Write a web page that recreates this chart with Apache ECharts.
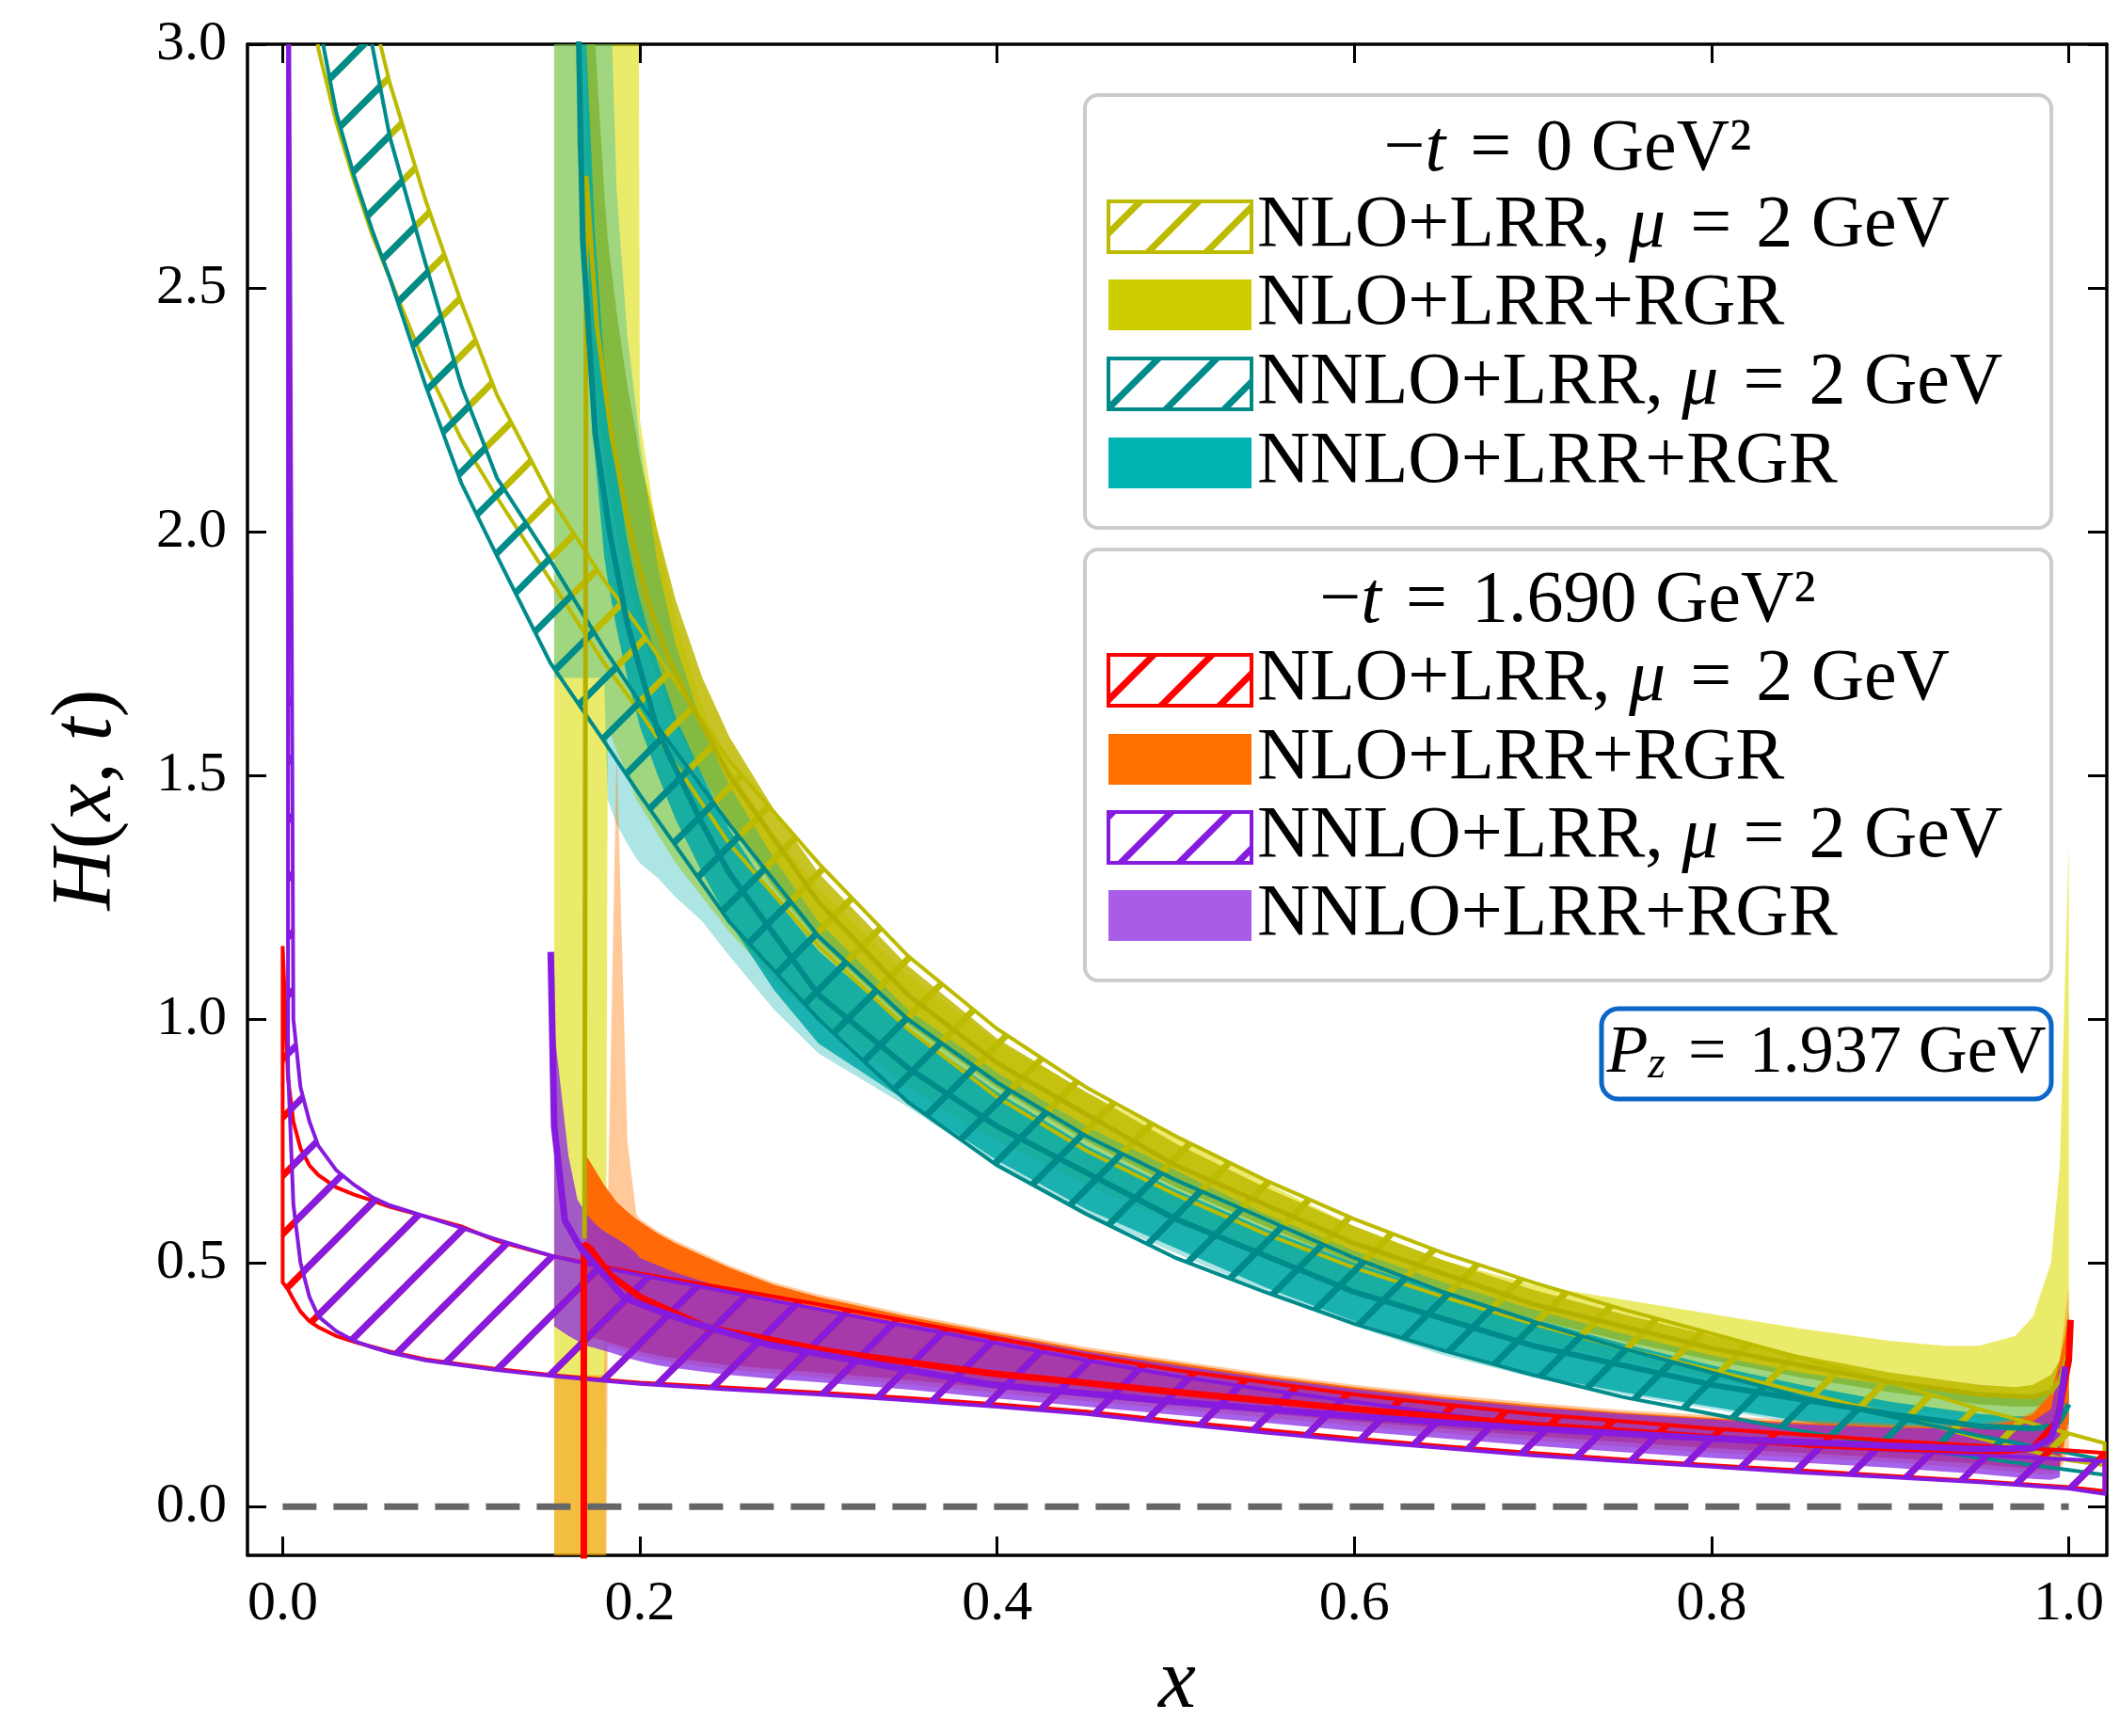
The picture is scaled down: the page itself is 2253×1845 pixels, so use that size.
<!DOCTYPE html>
<html>
<head>
<meta charset="utf-8">
<title>H(x,t)</title>
<script src="https://cdn.jsdelivr.net/npm/echarts@6/dist/echarts.min.js"></script>
<style>
html,body{margin:0;padding:0;background:#fff;}
#main{width:2253px;height:1845px;}
</style>
</head>
<body>
<div id="main"></div>
<script>
var FONT = 'Liberation Serif';

// tick values
var xTicks = [0, 0.2, 0.4, 0.6, 0.8, 1.0];
var yTicks = [0, 0.5, 1.0, 1.5, 2.0, 2.5, 3.0];

// x grid of the fixed-scale (hatched) bands
var xHat = [0.0, 0.003, 0.006, 0.01, 0.015, 0.02, 0.03, 0.04, 0.05, 0.06, 0.08, 0.10, 0.12, 0.15, 0.18, 0.20,
  0.25, 0.30, 0.35, 0.40, 0.45, 0.50, 0.55, 0.60, 0.65, 0.70, 0.75, 0.80, 0.85, 0.90, 0.95, 1.00, 1.02];

// -t = 0, NLO+LRR mu=2 GeV
var nloLrrT0Lo = [null, null, null, null, 3.2, 2.99, 2.84, 2.72, 2.61, 2.52, 2.34, 2.19, 2.07, 1.9, 1.73, 1.63,
  1.36, 1.15, 0.98, 0.84, 0.73, 0.64, 0.56, 0.49, 0.43, 0.375, 0.325, 0.28, 0.235, 0.19, 0.14, 0.095, 0.085];
var nloLrrT0Hi = [null, null, null, null, 4.3, 4.0, 3.6, 3.3, 3.07, 2.92, 2.68, 2.47, 2.28, 2.07, 1.9, 1.8,
  1.53, 1.32, 1.13, 0.98, 0.86, 0.76, 0.67, 0.59, 0.52, 0.46, 0.405, 0.355, 0.305, 0.255, 0.2, 0.15, 0.13];
// -t = 0, NNLO+LRR mu=2 GeV
var nnloLrrT0Lo = [null, null, null, null, 3.4, 3.05, 2.86, 2.73, 2.62, 2.52, 2.30, 2.1, 1.95, 1.73, 1.57, 1.46,
  1.2, 1.0, 0.83, 0.70, 0.60, 0.51, 0.44, 0.375, 0.32, 0.27, 0.225, 0.19, 0.155, 0.125, 0.1, 0.075, 0.065];
var nnloLrrT0Hi = [null, null, null, null, 4.0, 3.7, 3.4, 3.17, 3.0, 2.81, 2.55, 2.3, 2.11, 1.94, 1.76, 1.65,
  1.4, 1.17, 1.0, 0.87, 0.76, 0.67, 0.59, 0.51, 0.44, 0.38, 0.325, 0.275, 0.225, 0.185, 0.145, 0.11, 0.095];
// -t = 1.690, NLO+LRR mu=2 GeV
var nloLrrT169Lo = [0.46, 0.445, 0.425, 0.40, 0.38, 0.368, 0.35, 0.338, 0.328, 0.318, 0.302, 0.292, 0.282, 0.27, 0.26, 0.254,
  0.244, 0.234, 0.223, 0.21, 0.195, 0.175, 0.157, 0.14, 0.124, 0.11, 0.097, 0.085, 0.074, 0.063, 0.052, 0.04, 0.032];
var nloLrrT169Hi = [1.15, 0.88, 0.79, 0.735, 0.70, 0.68, 0.655, 0.64, 0.628, 0.615, 0.595, 0.575, 0.545, 0.515, 0.492, 0.478,
  0.447, 0.415, 0.38, 0.345, 0.31, 0.28, 0.255, 0.23, 0.21, 0.19, 0.175, 0.16, 0.148, 0.135, 0.125, 0.115, 0.11];
// -t = 1.690, NNLO+LRR mu=2 GeV
var nnloLrrT169Lo = [null, 0.9, 0.62, 0.5, 0.43, 0.39, 0.36, 0.34, 0.327, 0.316, 0.30, 0.29, 0.28, 0.268, 0.258, 0.252,
  0.24, 0.23, 0.218, 0.205, 0.19, 0.17, 0.152, 0.135, 0.12, 0.105, 0.093, 0.082, 0.07, 0.06, 0.05, 0.037, 0.026];
var nnloLrrT169Hi = [null, 3.6, 1.0, 0.86, 0.79, 0.74, 0.69, 0.66, 0.635, 0.618, 0.595, 0.572, 0.548, 0.515, 0.49, 0.475,
  0.44, 0.405, 0.37, 0.335, 0.3, 0.268, 0.24, 0.215, 0.19, 0.165, 0.15, 0.138, 0.126, 0.116, 0.106, 0.097, 0.093];

// x grid of the RGR bands
var xRgr = [0.152, 0.16, 0.165, 0.17, 0.175, 0.18, 0.182, 0.187, 0.193, 0.198, 0.2, 0.21, 0.22, 0.235, 0.25, 0.275, 0.3,
  0.35, 0.4, 0.45, 0.5, 0.55, 0.6, 0.65, 0.7, 0.75, 0.8, 0.85, 0.9, 0.93, 0.95, 0.97, 0.98, 0.99, 0.995, 1.0];

// -t = 0, NLO+LRR+RGR (outer / inner)
var nloRgrT0OutLo = [-1, -1, -1, -1, -1, -1, 1.6, 1.55, 1.5, 1.45, 1.44, 1.38, 1.32, 1.25, 1.18, 1.08, 1.0,
  0.86, 0.75, 0.66, 0.58, 0.51, 0.445, 0.39, 0.34, 0.3, 0.262, 0.23, 0.2, 0.19, 0.18, 0.175, 0.175, 0.18, 0.2, 0.3];
var nloRgrT0OutHi = [5, 5, 5, 5, 5, 5, 5, 5, 5, 5, 2.23, 1.99, 1.82, 1.64, 1.52, 1.38, 1.27,
  1.09, 0.955, 0.85, 0.76, 0.665, 0.575, 0.505, 0.455, 0.425, 0.395, 0.365, 0.34, 0.33, 0.33, 0.35, 0.39, 0.5, 0.7, 1.36];
var nloRgrT0InLo = [null, null, null, 2.5, 2.3, 2.15, 2.1, 2.0, 1.9, 1.83, 1.8, 1.7, 1.6, 1.5, 1.4, 1.27, 1.16,
  0.99, 0.86, 0.75, 0.655, 0.575, 0.5, 0.44, 0.385, 0.34, 0.3, 0.265, 0.235, 0.22, 0.21, 0.205, 0.205, 0.21, 0.22, 0.25];
var nloRgrT0InHi = [null, null, null, 3.5, 3.0, 2.7, 2.6, 2.45, 2.3, 2.2, 2.15, 2.0, 1.86, 1.7, 1.58, 1.43, 1.3,
  1.11, 0.96, 0.85, 0.745, 0.655, 0.575, 0.505, 0.445, 0.395, 0.35, 0.31, 0.275, 0.26, 0.25, 0.245, 0.25, 0.27, 0.3, 0.4];
// -t = 0, NNLO+LRR+RGR (outer / inner)
var nnloRgrT0OutLo = [1.7, 1.7, 1.7, 1.7, 1.7, 1.7, 1.45, 1.4, 1.36, 1.33, 1.32, 1.29, 1.25, 1.2, 1.13, 1.02, 0.93,
  0.82, 0.7, 0.6, 0.52, 0.44, 0.37, 0.31, 0.265, 0.23, 0.2, 0.17, 0.145, 0.135, 0.13, 0.125, 0.125, 0.13, 0.14, 0.16];
var nnloRgrT0OutHi = [5, 5, 5, 5, 5, 5, 3.3, 2.7, 2.4, 2.25, 2.18, 1.93, 1.77, 1.6, 1.48, 1.33, 1.2,
  1.02, 0.89, 0.78, 0.69, 0.6, 0.525, 0.46, 0.405, 0.355, 0.31, 0.275, 0.25, 0.24, 0.235, 0.23, 0.23, 0.24, 0.26, 0.33];
var nnloRgrT0InLo = [null, null, 2.8, 2.4, 2.15, 1.95, 1.9, 1.8, 1.7, 1.63, 1.6, 1.5, 1.41, 1.3, 1.2, 1.06, 0.95,
  0.83, 0.71, 0.61, 0.53, 0.45, 0.38, 0.32, 0.27, 0.235, 0.205, 0.175, 0.15, 0.14, 0.135, 0.13, 0.13, 0.135, 0.145, 0.17];
var nnloRgrT0InHi = [null, null, 3.6, 3.0, 2.6, 2.35, 2.28, 2.12, 1.98, 1.89, 1.86, 1.73, 1.62, 1.5, 1.39, 1.25, 1.14,
  0.98, 0.85, 0.74, 0.65, 0.57, 0.5, 0.44, 0.385, 0.335, 0.29, 0.25, 0.215, 0.2, 0.19, 0.185, 0.185, 0.19, 0.2, 0.24];
// -t = 1.690, NLO+LRR+RGR (outer / inner)
var nloRgrT169OutLo = [-1, -1, -1, -1, -1, -1, 0.33, 0.325, 0.318, 0.312, 0.31, 0.302, 0.295, 0.288, 0.281, 0.273, 0.266,
  0.251, 0.233, 0.216, 0.199, 0.183, 0.166, 0.151, 0.136, 0.123, 0.111, 0.101, 0.091, 0.083, 0.078, 0.071, 0.068, 0.066, 0.07, 0.12];
var nloRgrT169OutHi = [0.27, 0.27, 0.27, 0.27, 0.27, 0.27, 0.6, 1.55, 0.75, 0.6, 0.59, 0.565, 0.545, 0.52, 0.495, 0.46, 0.435,
  0.395, 0.36, 0.327, 0.3, 0.273, 0.25, 0.23, 0.213, 0.198, 0.187, 0.177, 0.17, 0.168, 0.17, 0.18, 0.195, 0.235, 0.305, 0.45];
var nloRgrT169InLo = [null, null, null, 0.35, 0.345, 0.34, 0.338, 0.332, 0.325, 0.32, 0.318, 0.31, 0.304, 0.297, 0.29, 0.282, 0.275,
  0.26, 0.242, 0.225, 0.208, 0.192, 0.175, 0.16, 0.145, 0.132, 0.12, 0.11, 0.1, 0.092, 0.087, 0.08, 0.077, 0.075, 0.08, 0.18];
var nloRgrT169InHi = [null, null, null, 0.72, 0.69, 0.66, 0.65, 0.625, 0.605, 0.59, 0.585, 0.56, 0.54, 0.515, 0.49, 0.455, 0.43,
  0.39, 0.355, 0.322, 0.295, 0.268, 0.245, 0.225, 0.208, 0.193, 0.182, 0.172, 0.165, 0.163, 0.165, 0.175, 0.19, 0.23, 0.3, 0.38];
// -t = 1.690, NNLO+LRR+RGR
var nnloRgrT169Lo = [0.37, 0.35, 0.34, 0.33, 0.325, 0.32, 0.318, 0.312, 0.305, 0.3, 0.298, 0.29, 0.284, 0.277, 0.27, 0.262, 0.255,
  0.24, 0.222, 0.205, 0.188, 0.172, 0.155, 0.14, 0.125, 0.112, 0.1, 0.09, 0.08, 0.072, 0.067, 0.06, 0.057, 0.055, 0.06, null];
var nnloRgrT169Hi = [0.98, 0.72, 0.63, 0.6, 0.58, 0.565, 0.56, 0.55, 0.535, 0.52, 0.51, 0.495, 0.48, 0.462, 0.445, 0.42, 0.405,
  0.375, 0.35, 0.318, 0.29, 0.264, 0.241, 0.221, 0.204, 0.19, 0.179, 0.169, 0.162, 0.16, 0.16, 0.165, 0.175, 0.2, 0.29, null];

// central RGR curves
var cenNloT0X = [0.169, 0.17, 0.176, 0.184, 0.1935, 0.2035, 0.215, 0.228, 0.25, 0.3, 0.35, 0.4, 0.5, 0.6, 0.7, 0.8, 0.9, 0.95, 0.98, 0.99, 0.995, 1.0];
var cenNloT0Y = [0.55, 2.73, 2.42, 2.2, 2.02, 1.87, 1.75, 1.65, 1.5, 1.24, 1.05, 0.91, 0.70, 0.54, 0.415, 0.325, 0.255, 0.23, 0.225, 0.235, 0.26, 0.32];
var cenNnloT0X = [0.1647, 0.168, 0.175, 0.183, 0.193, 0.21, 0.235, 0.25, 0.3, 0.35, 0.4, 0.5, 0.6, 0.7, 0.8, 0.9, 0.95, 0.98, 0.99, 0.995, 1.0];
var cenNnloT0Y = [3.2, 2.6, 2.2, 2.0, 1.81, 1.59, 1.4, 1.3, 1.05, 0.9, 0.78, 0.59, 0.44, 0.33, 0.25, 0.19, 0.165, 0.16, 0.165, 0.175, 0.21];
var cenNloT169X = [0.1686, 0.1686, 0.172, 0.184, 0.2, 0.237, 0.307, 0.395, 0.5, 0.6, 0.7, 0.8, 0.852, 0.9, 0.963, 0.98, 0.9935, 1.0, 1.001];
var cenNloT169Y = [-0.3, 0.538, 0.53, 0.473, 0.43, 0.368, 0.318, 0.274, 0.235, 0.2, 0.168, 0.142, 0.128, 0.12, 0.114, 0.12, 0.176, 0.3, 0.383];
var cenNnloT169X = [0.1501, 0.152, 0.158, 0.1667, 0.191, 0.2018, 0.227, 0.272, 0.395, 0.5, 0.6, 0.7, 0.8, 0.9, 0.95, 0.98, 0.99, 0.995, 0.998];
var cenNnloT169Y = [1.138, 0.78, 0.587, 0.531, 0.429, 0.413, 0.38, 0.332, 0.251, 0.215, 0.185, 0.16, 0.14, 0.125, 0.118, 0.12, 0.14, 0.2, 0.287];

var zeroX = [0, 1];
var zeroY = [0, 0];

// hatch fill "/" like matplotlib; lines run past the tile so corners join up
function hatchPattern(color) {
  var s = 62;
  var c = document.createElement('canvas');
  c.width = s; c.height = s;
  var g = c.getContext('2d');
  g.strokeStyle = color;
  g.lineWidth = 7;
  for (var k = -1; k <= 1; k++) {
    g.beginPath();
    g.moveTo(k * s - 20, s + 20);
    g.lineTo(k * s + s + 20, -20);
    g.stroke();
  }
  return {image: c, repeat: 'repeat'};
}

function band(name, xs, lo, hi, fill, stroke, lw, z) {
  var rows = [];
  for (var i = 0; i < xs.length; i++) {
    if (lo[i] != null && hi[i] != null) rows.push([xs[i], lo[i], hi[i]]);
  }
  return {
    type: 'custom', name: name, z: z, clip: true, silent: true, animation: false,
    data: rows,
    encode: {x: 0, y: [1, 2]},
    renderItem: function (params, api) {
      if (params.dataIndex !== 0) return;
      var top = [], bot = [];
      for (var j = 0; j < rows.length; j++) {
        top.push(api.coord([rows[j][0], rows[j][2]]));
        bot.push(api.coord([rows[j][0], rows[j][1]]));
      }
      return {
        type: 'polygon',
        shape: {points: top.concat(bot.reverse())},
        style: {fill: fill, stroke: stroke || null, lineWidth: lw || 0}
      };
    }
  };
}

function curve(name, xs, ys, color, w, z, dash) {
  var d = [];
  for (var i = 0; i < xs.length; i++) d.push([xs[i], ys[i]]);
  return {
    type: 'line', name: name, data: d, showSymbol: false, symbol: 'none', z: z,
    silent: true, animation: false, clip: true,
    lineStyle: {color: color, width: w, type: dash || 'solid'}
  };
}

var cYellowHatch = '#bcbb00', cTealHatch = '#008b8b', cRed = '#ff0000', cPurple = '#861ade';

var series = [
  band('NLO+LRR+RGR t0 outer', xRgr, nloRgrT0OutLo, nloRgrT0OutHi, 'rgba(220,220,0,0.58)', null, 0, 2),
  band('NLO+LRR+RGR t0', xRgr, nloRgrT0InLo, nloRgrT0InHi, 'rgba(190,186,0,0.85)', null, 0, 2),
  band('NNLO+LRR+RGR t0 outer', xRgr, nnloRgrT0OutLo, nnloRgrT0OutHi, 'rgba(0,170,170,0.32)', null, 0, 2),
  band('NNLO+LRR+RGR t0', xRgr, nnloRgrT0InLo, nnloRgrT0InHi, 'rgba(0,168,168,0.85)', null, 0, 2),
  band('NLO+LRR+RGR t169 outer', xRgr, nloRgrT169OutLo, nloRgrT169OutHi, 'rgba(255,120,0,0.4)', null, 0, 2),
  band('NLO+LRR+RGR t169', xRgr, nloRgrT169InLo, nloRgrT169InHi, 'rgba(255,100,0,0.95)', null, 0, 2),
  band('NNLO+LRR+RGR t169', xRgr, nnloRgrT169Lo, nnloRgrT169Hi, 'rgba(138,43,226,0.75)', null, 0, 2),
  band('NLO+LRR t0', xHat, nloLrrT0Lo, nloLrrT0Hi, hatchPattern(cYellowHatch), cYellowHatch, 4, 3),
  band('NNLO+LRR t0', xHat, nnloLrrT0Lo, nnloLrrT0Hi, hatchPattern(cTealHatch), cTealHatch, 4, 3),
  band('NLO+LRR t169', xHat, nloLrrT169Lo, nloLrrT169Hi, hatchPattern(cRed), cRed, 4, 3),
  band('NNLO+LRR t169', xHat, nnloLrrT169Lo, nnloLrrT169Hi, hatchPattern(cPurple), cPurple, 4, 3),
  curve('zero', zeroX, zeroY, '#666666', 7, 3, [36, 18]),
  curve('NLO RGR t0 central', cenNloT0X, cenNloT0Y, '#b3b000', 5, 4),
  curve('NNLO RGR t0 central', cenNnloT0X, cenNnloT0Y, '#008b8b', 6, 4),
  curve('NLO RGR t169 central', cenNloT169X, cenNloT169Y, '#ff0000', 7, 4),
  curve('NNLO RGR t169 central', cenNnloT169X, cenNnloT169Y, cPurple, 7, 4)
];

var rich = {
  r: {fontFamily: FONT, fontSize: 78, color: '#000'},
  i: {fontFamily: FONT, fontSize: 78, fontStyle: 'italic', color: '#000'},
  pr: {fontFamily: FONT, fontSize: 72, color: '#000'},
  pi: {fontFamily: FONT, fontSize: 72, fontStyle: 'italic', color: '#000'},
  s: {fontFamily: FONT, fontSize: 48, fontStyle: 'italic', color: '#000', verticalAlign: 'bottom', lineHeight: 48}
};

// slightly wider spacing around "=" as in math mode
var EQ = '\u2004=\u2004';
var legendTitles = ['{r|\u2212}{i|t}{r|' + EQ + '0 GeV\u00b2}', '{r|\u2212}{i|t}{r|' + EQ + '1.690 GeV\u00b2}'];
var legendLabels = ['{r|NLO+LRR, }{i|\u03bc}{r|' + EQ + '2 GeV}', '{r|NLO+LRR+RGR}',
  '{r|NNLO+LRR, }{i|\u03bc}{r|' + EQ + '2 GeV}', '{r|NNLO+LRR+RGR}'];
var legendKinds = ['hatch', 'solid', 'hatch', 'solid'];
var legendColorsT0 = [cYellowHatch, '#cdcd00', cTealHatch, '#00b2b2'];
var legendColorsT169 = [cRed, '#ff7000', cPurple, '#a85ce8'];

function legendBox(boxY, boxH, title, titleY, rowYs, colors) {
  var els = [];
  els.push({type: 'rect', z: 100, shape: {x: 1153, y: boxY, width: 1027, height: boxH, r: 14},
    style: {fill: 'rgba(255,255,255,0.85)', stroke: '#cccccc', lineWidth: 4}});
  els.push({type: 'text', z: 101, x: 1666, y: titleY,
    style: {text: title, rich: rich, align: 'center', verticalAlign: 'middle'}});
  for (var k = 0; k < 4; k++) {
    var y = rowYs[k];
    els.push({type: 'rect', z: 101, shape: {x: 1178, y: y - 27, width: 152, height: 54},
      style: legendKinds[k] === 'hatch' ? {fill: hatchPattern(colors[k]), stroke: colors[k], lineWidth: 4} : {fill: colors[k]}});
    els.push({type: 'text', z: 101, x: 1336, y: y,
      style: {text: legendLabels[k], rich: rich, align: 'left', verticalAlign: 'middle'}});
  }
  return els;
}

var graphics = [].concat(
  legendBox(101, 460, legendTitles[0], 160, [241, 324, 408, 492], legendColorsT0),
  legendBox(584, 458, legendTitles[1], 640, [723, 807, 890, 973], legendColorsT169),
  [
    {type: 'rect', z: 100, shape: {x: 1702, y: 1072, width: 478, height: 96, r: 18},
      style: {fill: '#ffffff', stroke: '#0a66c8', lineWidth: 5}},
    {type: 'text', z: 101, x: 1941, y: 1120,
      style: {text: '{pi|P}{s|z}{pr|' + EQ + '1.937 GeV}', rich: rich, align: 'center', verticalAlign: 'middle'}}
  ]
);

var axisLineStyle = {color: '#000', width: 3.5};
var tickStyle = {color: '#000', width: 3};

var option = {
  animation: false,
  backgroundColor: '#ffffff',
  grid: {left: 263, top: 47, width: 1976, height: 1606, containLabel: false},
  xAxis: [{
    type: 'value', position: 'bottom', min: -0.0197, max: 1.0213,
    axisLine: {show: true, onZero: false, lineStyle: axisLineStyle},
    axisTick: {show: true, inside: true, length: 20, lineStyle: tickStyle, customValues: xTicks},
    axisLabel: {customValues: xTicks, formatter: function (v) { return v.toFixed(1); },
      fontFamily: FONT, fontSize: 60, color: '#000', margin: 22},
    splitLine: {show: false},
    name: 'x', nameLocation: 'middle', nameGap: 92,
    nameTextStyle: {fontFamily: FONT, fontStyle: 'italic', fontSize: 90, color: '#000'}
  }, {
    type: 'value', position: 'top', min: -0.0197, max: 1.0213,
    axisLine: {show: true, onZero: false, lineStyle: axisLineStyle},
    axisTick: {show: true, inside: true, length: 20, lineStyle: tickStyle, customValues: xTicks},
    axisLabel: {show: false}, splitLine: {show: false}
  }],
  yAxis: [{
    type: 'value', position: 'left', min: -0.1, max: 3.0,
    axisLine: {show: true, onZero: false, lineStyle: axisLineStyle},
    axisTick: {show: true, inside: true, length: 20, lineStyle: tickStyle, customValues: yTicks},
    axisLabel: {customValues: yTicks, formatter: function (v) { return v.toFixed(1); },
      fontFamily: FONT, fontSize: 60, color: '#000', margin: 22},
    splitLine: {show: false},
    name: '{i|H}{r|(}{i|x}{r|, }{i|t}{r|)}', nameLocation: 'middle', nameGap: 125, nameRotate: 90,
    nameTextStyle: {rich: {
      i: {fontFamily: FONT, fontStyle: 'italic', fontSize: 90, color: '#000'},
      r: {fontFamily: FONT, fontSize: 90, color: '#000'}
    }}
  }, {
    type: 'value', position: 'right', min: -0.1, max: 3.0,
    axisLine: {show: true, onZero: false, lineStyle: axisLineStyle},
    axisTick: {show: true, inside: true, length: 20, lineStyle: tickStyle, customValues: yTicks},
    axisLabel: {show: false}, splitLine: {show: false}
  }],
  series: series,
  graphic: {elements: graphics}
};

var chart = echarts.init(document.getElementById('main'), null, {renderer: 'canvas'});
chart.setOption(option);
</script>
</body>
</html>
